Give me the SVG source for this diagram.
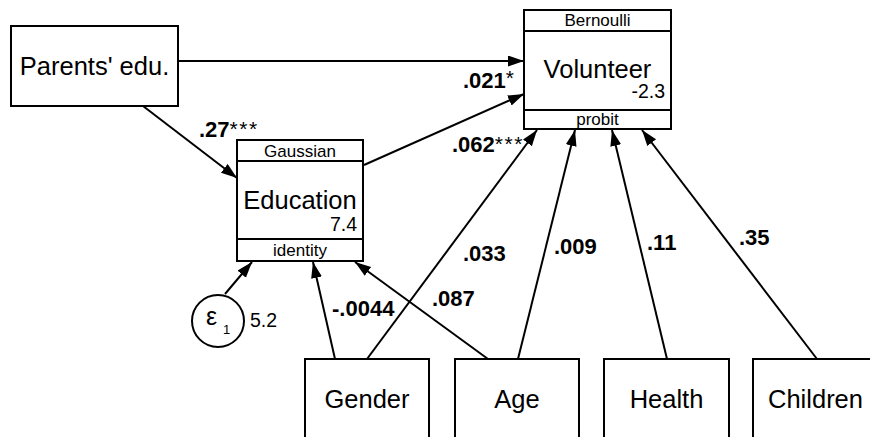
<svg xmlns="http://www.w3.org/2000/svg" width="870" height="437" viewBox="0 0 870 437">
<defs>
<marker id="ah" markerUnits="userSpaceOnUse" markerWidth="17" markerHeight="12" refX="16" refY="5.5" orient="auto">
<path d="M0,0 L16,5.5 L0,11 z" fill="#000"/>
</marker>
<style>
text{font-family:"Liberation Sans",Arial,Helvetica,sans-serif;fill:#000}
.box{fill:#fff;stroke:#000;stroke-width:2}
.div{stroke:#000;stroke-width:2}
.big{font-size:25.5px;text-anchor:middle}
.small{font-size:17px;text-anchor:middle}
.num{font-size:19.5px;text-anchor:end}
.lbl{font-size:22px;font-weight:bold}
.st{font-weight:normal;font-size:21px;letter-spacing:1.5px}
.conn line{stroke:#000;stroke-width:2;marker-end:url(#ah)}
</style>
</defs>
<rect width="870" height="437" fill="#fff"/>
<g id="connectors" class="conn">
<line x1="178" y1="61" x2="524" y2="61"/>
<line x1="143" y1="106" x2="237" y2="178"/>
<line x1="364" y1="165" x2="524" y2="94"/>
<line x1="225" y1="294" x2="252" y2="262"/>
<line x1="335" y1="359" x2="313" y2="262"/>
<line x1="488" y1="359" x2="355" y2="262"/>
<line x1="367" y1="359" x2="537" y2="130"/>
<line x1="518" y1="359" x2="575" y2="130"/>
<line x1="667" y1="359" x2="612" y2="130"/>
<line x1="817" y1="359" x2="642" y2="130"/>
</g>
<g id="labels">
<text class="lbl" x="463" y="88">.021<tspan class="st" dy="-3">*</tspan></text>
<text class="lbl" x="199" y="137">.27<tspan class="st" dy="-1">***</tspan></text>
<text class="lbl" x="452" y="152">.062<tspan class="st" dy="-1">***</tspan></text>
<text class="lbl" x="463" y="261">.033</text>
<text class="lbl" x="554" y="254">.009</text>
<text class="lbl" x="647" y="250">.11</text>
<text class="lbl" x="739" y="245">.35</text>
<text class="lbl" x="332" y="316">-.0044</text>
<text class="lbl" x="432" y="306">.087</text>
</g>
<g id="parents">
<rect class="box" x="11" y="26" width="167" height="80"/>
<text class="big" x="94.5" y="75">Parents' edu.</text>
</g>
<g id="volunteer">
<rect class="box" x="524" y="10" width="147" height="119"/>
<line class="div" x1="524" y1="31" x2="671" y2="31"/>
<line class="div" x1="524" y1="110" x2="671" y2="110"/>
<text class="small" x="597.5" y="26">Bernoulli</text>
<text class="big" x="597.5" y="78">Volunteer</text>
<text class="num" x="665" y="98">-2.3</text>
<text class="small" x="597.5" y="125">probit</text>
</g>
<g id="education">
<rect class="box" x="237" y="140" width="126" height="121"/>
<line class="div" x1="237" y1="161" x2="363" y2="161"/>
<line class="div" x1="237" y1="239" x2="363" y2="239"/>
<text class="small" x="300" y="156.5">Gaussian</text>
<text class="big" x="300" y="209">Education</text>
<text class="num" x="357" y="231">7.4</text>
<text class="small" x="300" y="256">identity</text>
</g>
<g id="epsilon">
<circle cx="218" cy="321" r="26" fill="#fff" stroke="#000" stroke-width="2"/>
<text x="206" y="325" font-size="25px">ε</text>
<text x="223" y="334" font-size="13px">1</text>
<text x="250" y="327" font-size="19.5px">5.2</text>
</g>
<g id="gender">
<rect class="box" x="305" y="359" width="124" height="100"/>
<text class="big" x="367" y="408">Gender</text>
</g>
<g id="age">
<rect class="box" x="455" y="359" width="124" height="100"/>
<text class="big" x="517" y="408">Age</text>
</g>
<g id="health">
<rect class="box" x="604" y="359" width="125" height="100"/>
<text class="big" x="666.5" y="408">Health</text>
</g>
<g id="children">
<rect class="box" x="753" y="359" width="125" height="100"/>
<text class="big" x="815.5" y="408">Children</text>
</g>
</svg>
